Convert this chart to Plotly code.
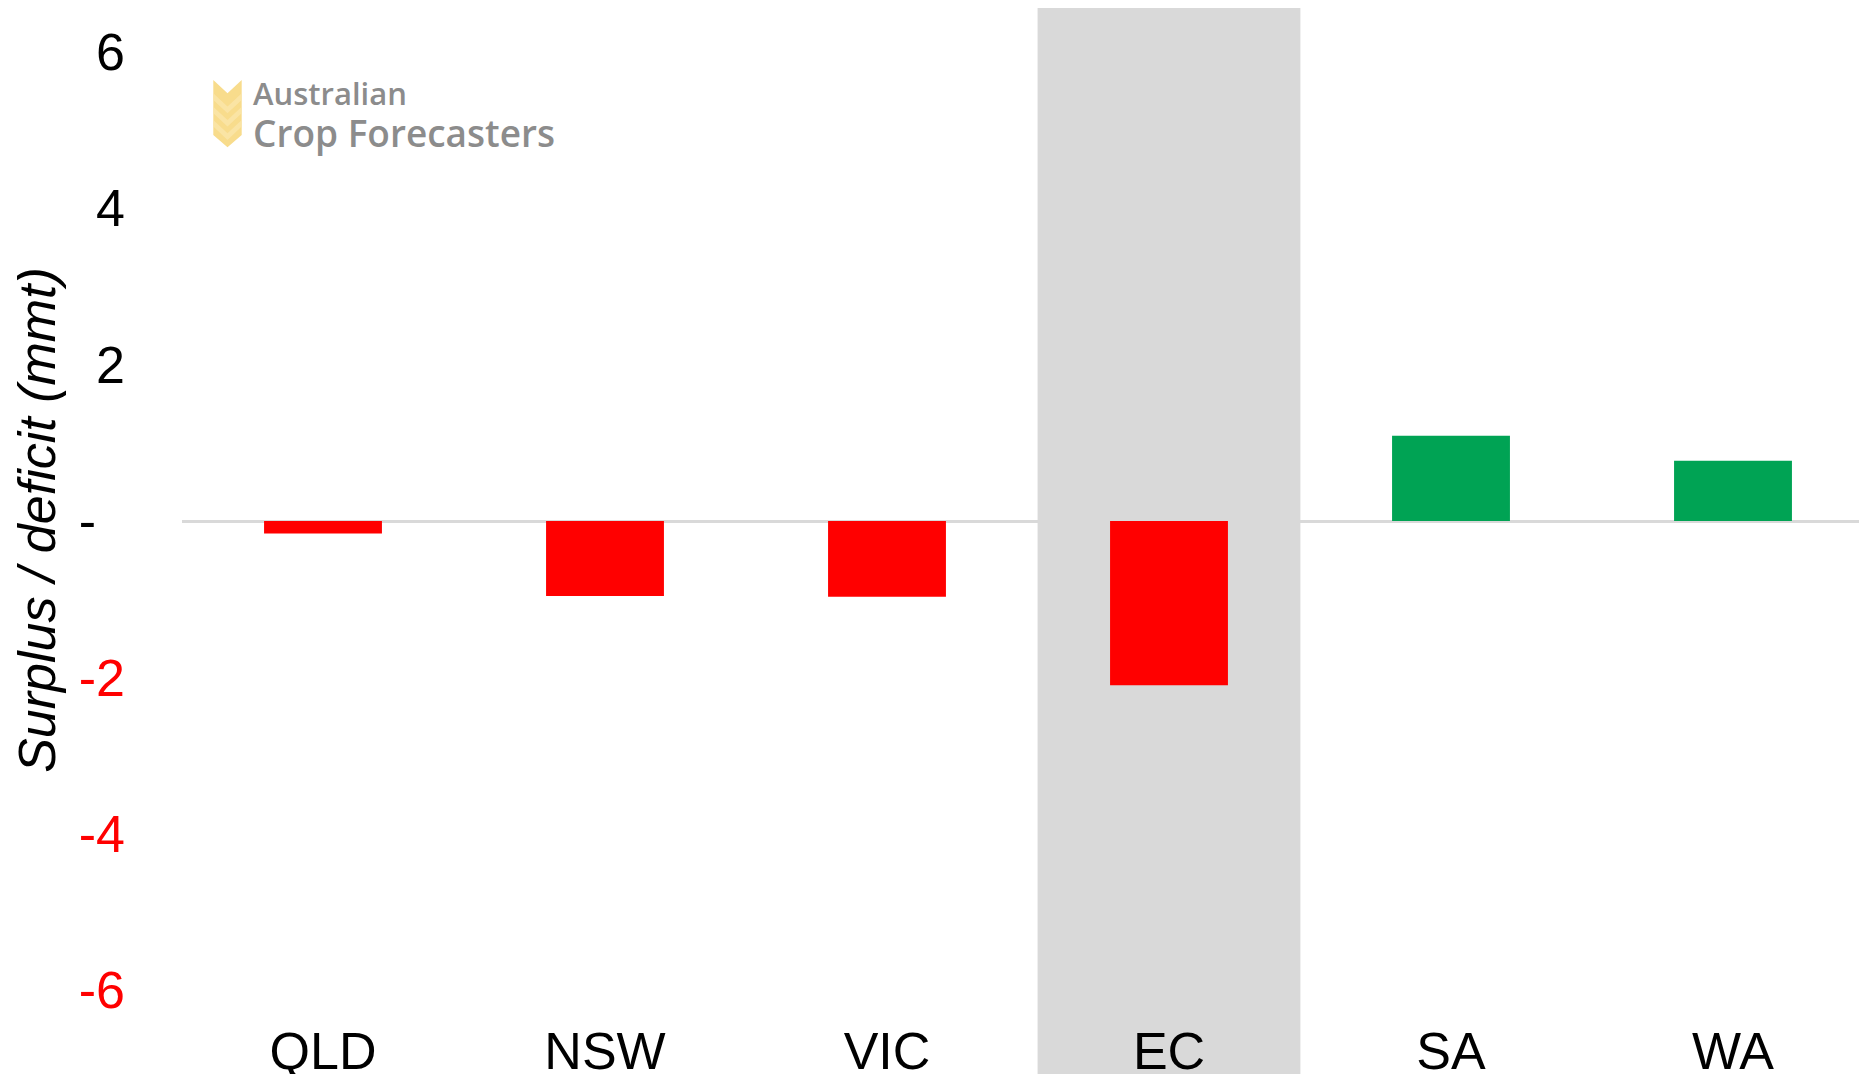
import plotly.graph_objects as go

# ---- data ----
regions = ["QLD", "NSW", "VIC", "EC", "SA", "WA"]
balance = [-0.16, -0.96, -0.97, -2.10, 1.09, 0.77]
highlight = "EC"
ytick_vals = [-6, -4, -2, 0, 2, 4, 6]
ytick_text = ['<span style="color:#FF0000">-6</span>',
              '<span style="color:#FF0000">-4</span>',
              '<span style="color:#FF0000">-2</span>',
              "-\u00a0\u00a0", "2", "4", "6"]

RED = "#FF0000"
GREEN = "#00A354"
GREY = "#D9D9D9"
FONT = "Liberation Sans, Arial, sans-serif"

OFF = 8  # page body margin
W, H = 1867, 1074
ML, MR, MT, MB = 182 - OFF, 0, 0, 50
PW, PH = W - ML - MR, H - MT - MB
ZERO = 521 - OFF          # pixel row of y=0 inside the figure
UNIT = 78.2               # pixels per unit
CAT = 282.0               # pixels per category

colors = [RED if v < 0 else GREEN for v in balance]

fig = go.Figure()
fig.add_trace(go.Bar(x=regions, y=balance, marker=dict(color=colors, line=dict(width=0)),
                     width=0.418, hoverinfo="x+y"))


def px(x):
    return (x - OFF - ML) / PW


def py(y):
    return 1 - (y - OFF - MT) / PH


# highlighted band behind EC
hi = regions.index(highlight)
fig.add_shape(type="rect", xref="x", yref="paper",
              x0=hi - 0.466, x1=hi + 0.466, y0=-0.3, y1=py(8),
              fillcolor=GREY, line=dict(width=0), layer="between")


# logo icon (wheat ear)
def poly(pts):
    return "M " + " L ".join(f"{px(a)},{py(b)}" for a, b in pts) + " Z"


outline = [(213.3, 80), (227.5, 93.3), (241.7, 80), (241.7, 135), (227.5, 147.3), (213.3, 135)]
fig.add_shape(type="path", xref="paper", yref="paper", path=poly(outline),
              fillcolor="#F8DC8C", line=dict(width=0), layer="above")
for top in (93.3, 106.7, 120.0):
    band = [(213.3, top), (227.5, top + 13.3), (241.7, top),
            (241.7, top + 6.6), (227.5, top + 19.9), (213.3, top + 6.6)]
    fig.add_shape(type="path", xref="paper", yref="paper", path=poly(band),
                  fillcolor="#FBE7AE", line=dict(width=0), layer="above", opacity=0.7)

fig.add_annotation(text="Australian", xref="paper", yref="paper", x=px(251), y=py(93),
                   xanchor="left", yanchor="middle", showarrow=False,
                   font=dict(family="Open Sans, sans-serif", size=31, color="#8C8C8C", weight=600))
fig.add_annotation(text="Crop Forecasters", xref="paper", yref="paper", x=px(251), y=py(132),
                   xanchor="left", yanchor="middle", showarrow=False,
                   font=dict(family="Open Sans, sans-serif", size=37, color="#8C8C8C", weight=600))

y_top = ZERO / UNIT
y_bot = -(MT + PH - ZERO) / UNIT

fig.update_layout(
    width=W, height=H,
    margin=dict(l=ML, r=MR, t=MT, b=MB, pad=0, autoexpand=False),
    plot_bgcolor="white", paper_bgcolor="white",
    showlegend=False,
    font=dict(family=FONT, color="black"),
    xaxis=dict(range=[-0.5, -0.5 + PW / CAT], showgrid=False, showline=False,
               zeroline=False, ticks="", tickfont=dict(size=52, color="black"),
               ticklabelstandoff=-16,
               fixedrange=True, automargin=False),
    yaxis=dict(range=[y_bot, y_top], tickvals=ytick_vals, ticktext=ytick_text,
               showgrid=False, showline=False, ticks="", automargin=False,
               ticklabelstandoff=56,
               zeroline=True, zerolinecolor=GREY, zerolinewidth=2.5,
               tickfont=dict(size=52, color="black"),
               title=dict(text="<i>Surplus / deficit (mmt)</i>",
                          font=dict(size=52, color="black"), standoff=6)),
)

fig.write_html("out.html")
